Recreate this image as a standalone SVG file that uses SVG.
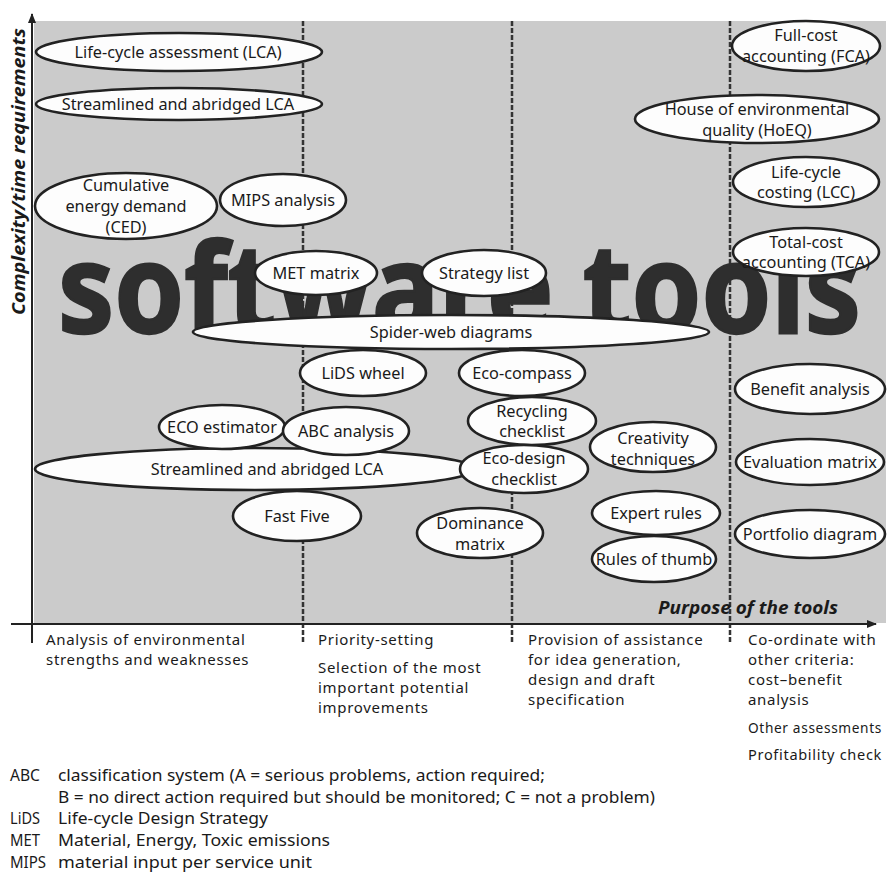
<svg xmlns="http://www.w3.org/2000/svg" width="888" height="886" viewBox="0 0 888 886">
<style>
  .bg { fill: #cbcbcb; }
  .node ellipse { fill: #fdfdfd; stroke: #222; stroke-width: 2.6; }
  .node text { font-family: "Noto Sans", "Liberation Sans", sans-serif; font-size: 16.3px; fill: #1a1a1a; text-anchor: middle; }
  .axis { stroke: #222; stroke-width: 2; fill: none; }
  .dash { stroke: #333; stroke-width: 2.5; stroke-dasharray: 5 2; fill: none; }
  .big { font-family: "Noto Sans", "Liberation Sans", sans-serif; font-weight: 700; font-size: 124px; fill: #2e2e2e; stroke: #2e2e2e; stroke-width: 2.5; }
  .axlabel { font-family: "Noto Sans", "Liberation Sans", sans-serif; font-weight: 700; font-style: italic; font-size: 17px; fill: #1a1a1a; }
  .purpose { font-family: "Noto Sans", "Liberation Sans", sans-serif; font-size: 15px; letter-spacing: 0.7px; fill: #1a1a1a; }
  .legend { font-family: "Noto Sans", "Liberation Sans", sans-serif; font-size: 16px; fill: #1a1a1a; }
</style>
<defs>
  <marker id="arrowhead" markerWidth="10" markerHeight="10" refX="9" refY="5" orient="auto" markerUnits="userSpaceOnUse">
    <path d="M0,1 L10,5 L0,9 Z" fill="#222"/>
  </marker>
</defs>

<rect class="bg" x="34" y="21" width="852" height="602"/>

<g id="columns">
  <line class="dash" x1="303" y1="21" x2="303" y2="642"/>
  <line class="dash" x1="512" y1="21" x2="512" y2="642"/>
  <line class="dash" x1="730" y1="21" x2="730" y2="642"/>
</g>

<text class="big" x="58" y="333" textLength="803" lengthAdjust="spacingAndGlyphs">software tools</text>

<g id="axes">
  <line class="axis" x1="32" y1="643" x2="32" y2="14" marker-end="url(#arrowhead)"/>
  <line class="axis" x1="11" y1="624" x2="876" y2="624" marker-end="url(#arrowhead)"/>
  <text class="axlabel" transform="translate(25,315) rotate(-90)" textLength="287" lengthAdjust="spacingAndGlyphs">Complexity/time requirements</text>
  <text class="axlabel" x="658" y="614" textLength="180" lengthAdjust="spacingAndGlyphs">Purpose of the tools</text>
</g>

<g id="connectors"></g>

<g id="n-lca" class="node"><ellipse cx="179" cy="52" rx="143" ry="19"/><text x="178" y="58">Life-cycle assessment (LCA)</text></g>
<g id="n-sal1" class="node"><ellipse cx="179" cy="104" rx="143" ry="16"/><text x="178" y="110">Streamlined and abridged LCA</text></g>
<g id="n-ced" class="node"><ellipse cx="126" cy="206" rx="91" ry="33"/><text x="126" y="191">Cumulative</text><text x="126" y="212">energy demand</text><text x="126" y="233">(CED)</text></g>
<g id="n-mips" class="node"><ellipse cx="283" cy="200" rx="63" ry="26"/><text x="283" y="206">MIPS analysis</text></g>
<g id="n-fca" class="node"><ellipse cx="806" cy="46" rx="74" ry="25"/><text x="806" y="41">Full-cost</text><text x="806" y="62">accounting (FCA)</text></g>
<g id="n-hoeq" class="node"><ellipse cx="757" cy="119" rx="122" ry="24"/><text x="757" y="115">House of environmental</text><text x="757" y="136">quality (HoEQ)</text></g>
<g id="n-lcc" class="node"><ellipse cx="806" cy="182" rx="73" ry="25"/><text x="806" y="178">Life-cycle</text><text x="806" y="198">costing (LCC)</text></g>
<g id="n-tca" class="node"><ellipse cx="806" cy="252" rx="73" ry="24"/><text x="806" y="248">Total-cost</text><text x="806" y="268">accounting (TCA)</text></g>
<g id="n-met" class="node"><ellipse cx="316" cy="273" rx="61" ry="22"/><text x="316" y="279">MET matrix</text></g>
<g id="n-strat" class="node"><ellipse cx="484" cy="273" rx="62" ry="23"/><text x="484" y="279">Strategy list</text></g>
<g id="n-spider" class="node"><ellipse cx="451" cy="332" rx="258" ry="17"/><text x="451" y="338">Spider-web diagrams</text></g>
<g id="n-lids" class="node"><ellipse cx="363" cy="373" rx="63" ry="23"/><text x="363" y="379">LiDS wheel</text></g>
<g id="n-ecocomp" class="node"><ellipse cx="522" cy="373" rx="63" ry="23"/><text x="522" y="379">Eco-compass</text></g>
<g id="n-benefit" class="node"><ellipse cx="810" cy="389" rx="75" ry="25"/><text x="810" y="395">Benefit analysis</text></g>
<g id="n-sal2" class="node"><ellipse cx="255" cy="469" rx="220" ry="21"/><text x="267" y="475">Streamlined and abridged LCA</text></g>
<g id="n-ecoest" class="node"><ellipse cx="222" cy="427" rx="63" ry="22"/><text x="222" y="433">ECO estimator</text></g>
<g id="n-abc" class="node"><ellipse cx="346" cy="431" rx="63" ry="24"/><text x="346" y="437">ABC analysis</text></g>
<g id="n-recyc" class="node"><ellipse cx="532" cy="421" rx="64" ry="24"/><text x="532" y="417">Recycling</text><text x="532" y="437">checklist</text></g>
<g id="n-ecodesign" class="node"><ellipse cx="524" cy="469" rx="64" ry="24"/><text x="524" y="464">Eco-design</text><text x="524" y="485">checklist</text></g>
<g id="n-creat" class="node"><ellipse cx="653" cy="447" rx="63" ry="25"/><text x="653" y="444">Creativity</text><text x="653" y="465">techniques</text></g>
<g id="n-eval" class="node"><ellipse cx="810" cy="462" rx="74" ry="23"/><text x="810" y="468">Evaluation matrix</text></g>
<g id="n-fast" class="node"><ellipse cx="297" cy="516" rx="64" ry="25"/><text x="297" y="522">Fast Five</text></g>
<g id="n-domin" class="node"><ellipse cx="480" cy="533" rx="63" ry="25"/><text x="480" y="529">Dominance</text><text x="480" y="550">matrix</text></g>
<g id="n-expert" class="node"><ellipse cx="656" cy="513" rx="64" ry="22"/><text x="656" y="519">Expert rules</text></g>
<g id="n-thumb" class="node"><ellipse cx="654" cy="559" rx="62" ry="23"/><text x="654" y="565">Rules of thumb</text></g>
<g id="n-portfolio" class="node"><ellipse cx="810" cy="534" rx="75" ry="24"/><text x="810" y="540">Portfolio diagram</text></g>

<g id="purposes">
  <text class="purpose" x="46" y="645">Analysis of environmental</text>
  <text class="purpose" x="46" y="665">strengths and weaknesses</text>
  <text class="purpose" x="318" y="645">Priority-setting</text>
  <text class="purpose" x="318" y="673">Selection of the most</text>
  <text class="purpose" x="318" y="693">important potential</text>
  <text class="purpose" x="318" y="713">improvements</text>
  <text class="purpose" x="528" y="645">Provision of assistance</text>
  <text class="purpose" x="528" y="665">for idea generation,</text>
  <text class="purpose" x="528" y="685">design and draft</text>
  <text class="purpose" x="528" y="705">specification</text>
  <text class="purpose" x="748" y="645">Co-ordinate with</text>
  <text class="purpose" x="748" y="665">other criteria:</text>
  <text class="purpose" x="748" y="685">cost–benefit</text>
  <text class="purpose" x="748" y="705">analysis</text>
  <text class="purpose" x="748" y="733" letter-spacing="0" textLength="134" lengthAdjust="spacingAndGlyphs">Other assessments</text>
  <text class="purpose" x="748" y="760" letter-spacing="0" textLength="134" lengthAdjust="spacingAndGlyphs">Profitability check</text>
</g>

<g id="legend">
  <text class="legend" x="10" y="781" textLength="30" lengthAdjust="spacingAndGlyphs">ABC</text>
  <text class="legend" x="58" y="781" textLength="487" lengthAdjust="spacingAndGlyphs">classification system (A = serious problems, action required;</text>
  <text class="legend" x="58" y="803" textLength="597" lengthAdjust="spacingAndGlyphs">B = no direct action required but should be monitored; C = not a problem)</text>
  <text class="legend" x="10" y="824" textLength="30" lengthAdjust="spacingAndGlyphs">LiDS</text>
  <text class="legend" x="58" y="824" textLength="210" lengthAdjust="spacingAndGlyphs">Life-cycle Design Strategy</text>
  <text class="legend" x="10" y="846" textLength="30" lengthAdjust="spacingAndGlyphs">MET</text>
  <text class="legend" x="58" y="846" textLength="272" lengthAdjust="spacingAndGlyphs">Material, Energy, Toxic emissions</text>
  <text class="legend" x="10" y="868" textLength="36" lengthAdjust="spacingAndGlyphs">MIPS</text>
  <text class="legend" x="58" y="868" textLength="254" lengthAdjust="spacingAndGlyphs">material input per service unit</text>
</g>
</svg>
